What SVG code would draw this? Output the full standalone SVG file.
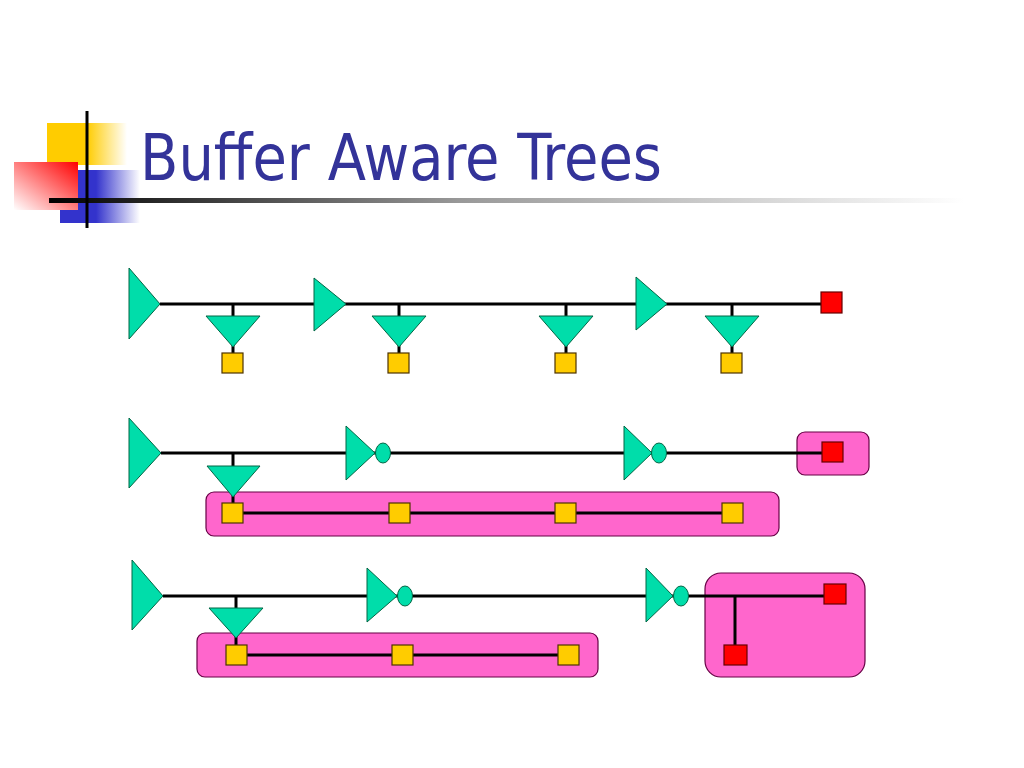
<svg xmlns="http://www.w3.org/2000/svg" width="1024" height="768" viewBox="0 0 1024 768">
<style>
.buf{fill:#00DDAA;stroke:#006644;stroke-width:1}
.wire{stroke:#000;stroke-width:3;fill:none}
.sink{fill:#FFCC00;stroke:#4d3300;stroke-width:1.2}
.root{fill:#FF0000;stroke:#660000;stroke-width:1.2}
.box{fill:#FF66CC;stroke:#660044;stroke-width:1.2}
.title{font-family:Tahoma,"DejaVu Sans","Liberation Sans",sans-serif;font-stretch:condensed;font-size:64px;fill:#333399}
</style>
<defs>
<linearGradient id="gy" x1="0" y1="0" x2="1" y2="0">
<stop offset="0" stop-color="#FFCC00"/><stop offset="0.5" stop-color="#FFCC00"/><stop offset="1" stop-color="#FFCC00" stop-opacity="0"/>
</linearGradient>
<linearGradient id="gb" x1="0" y1="0" x2="1" y2="0">
<stop offset="0" stop-color="#3333CC"/><stop offset="0.45" stop-color="#3333CC"/><stop offset="1" stop-color="#3333CC" stop-opacity="0"/>
</linearGradient>
<linearGradient id="gr" x1="1" y1="0" x2="0" y2="1">
<stop offset="0" stop-color="#FF0000"/><stop offset="1" stop-color="#FFFFFF"/>
</linearGradient>
<linearGradient id="gl" x1="0" y1="0" x2="1" y2="0">
<stop offset="0" stop-color="#000"/><stop offset="0.45" stop-color="#999"/><stop offset="1" stop-color="#fff"/>
</linearGradient>
</defs>
<rect width="1024" height="768" fill="#fff"/>
<g id="decor">
<rect x="47" y="123" width="80" height="42" fill="url(#gy)"/>
<rect x="60" y="170" width="80" height="53" fill="url(#gb)"/>
<rect x="14" y="162" width="64" height="48" fill="url(#gr)"/>
<rect x="49" y="198" width="915" height="5" fill="url(#gl)"/>
<line x1="87" y1="111" x2="87" y2="228" stroke="#000" stroke-width="3"/>
</g>
<text id="title" class="title" x="140" y="180" textLength="522" lengthAdjust="spacingAndGlyphs">Buffer Aware Trees</text>

<g id="boxes">
<rect id="box2a" class="box" x="206" y="492" width="573" height="44" rx="8"/>
<rect id="box2b" class="box" x="797" y="432" width="72" height="43" rx="8"/>
<rect id="box3a" class="box" x="197" y="633" width="401" height="44" rx="8"/>
<rect id="box3b" class="box" x="705" y="573" width="160" height="104" rx="16"/>
</g>

<g id="connectors">
<line class="wire" x1="160" y1="304" x2="821" y2="304"/>
<line class="wire" x1="233" y1="304" x2="233" y2="353"/>
<line class="wire" x1="399" y1="304" x2="399" y2="353"/>
<line class="wire" x1="566" y1="304" x2="566" y2="353"/>
<line class="wire" x1="732" y1="304" x2="732" y2="353"/>
<line class="wire" x1="161" y1="453" x2="822" y2="453"/>
<line class="wire" x1="233" y1="453" x2="233" y2="503"/>
<line class="wire" x1="233" y1="513" x2="732" y2="513"/>
<line class="wire" x1="163" y1="596" x2="824" y2="596"/>
<line class="wire" x1="236" y1="596" x2="236" y2="645"/>
<line class="wire" x1="236" y1="655" x2="568" y2="655"/>
<line class="wire" x1="735" y1="596" x2="735" y2="645"/>
</g>

<g id="row1">
<polygon id="r1b1" class="buf" points="129,268 129,339 160,304"/>
<polygon id="r1b2" class="buf" points="314,278 314,331 346,304"/>
<polygon id="r1b3" class="buf" points="636,277 636,330 667,304"/>
<polygon id="r1t1" class="buf" points="206,316 260,316 233,347"/>
<polygon id="r1t2" class="buf" points="372,316 426,316 399,347"/>
<polygon id="r1t3" class="buf" points="539,316 593,316 566,347"/>
<polygon id="r1t4" class="buf" points="705,316 759,316 732,347"/>
<rect id="r1s1" class="sink" x="222" y="353" width="21" height="20"/>
<rect id="r1s2" class="sink" x="388" y="353" width="21" height="20"/>
<rect id="r1s3" class="sink" x="555" y="353" width="21" height="20"/>
<rect id="r1s4" class="sink" x="721" y="353" width="21" height="20"/>
<rect id="r1root" class="root" x="821" y="292" width="21" height="21"/>
</g>

<g id="row2">
<polygon id="r2b1" class="buf" points="129,418 129,488 161,453"/>
<polygon id="r2t1" class="buf" points="207,466 260,466 233,497"/>
<g id="r2inv1"><polygon class="buf" points="346,426 346,480 375,453"/><ellipse class="buf" cx="383" cy="453" rx="7.5" ry="10"/></g>
<g id="r2inv2"><polygon class="buf" points="624,426 624,480 652,453"/><ellipse class="buf" cx="659" cy="453" rx="7.5" ry="10"/></g>
<rect id="r2s1" class="sink" x="222" y="503" width="21" height="20"/>
<rect id="r2s2" class="sink" x="389" y="503" width="21" height="20"/>
<rect id="r2s3" class="sink" x="555" y="503" width="21" height="20"/>
<rect id="r2s4" class="sink" x="722" y="503" width="21" height="20"/>
<rect id="r2root" class="root" x="822" y="442" width="21" height="20"/>
</g>

<g id="row3">
<polygon id="r3b1" class="buf" points="132,560 132,630 163,596"/>
<polygon id="r3t1" class="buf" points="209,608 263,608 236,638"/>
<g id="r3inv1"><polygon class="buf" points="367,568 367,622 397,596"/><ellipse class="buf" cx="405" cy="596" rx="7.5" ry="10"/></g>
<g id="r3inv2"><polygon class="buf" points="646,568 646,622 673,596"/><ellipse class="buf" cx="681" cy="596" rx="7.5" ry="10"/></g>
<rect id="r3s1" class="sink" x="226" y="645" width="21" height="20"/>
<rect id="r3s2" class="sink" x="392" y="645" width="21" height="20"/>
<rect id="r3s3" class="sink" x="558" y="645" width="21" height="20"/>
<rect id="r3root1" class="root" x="824" y="584" width="22" height="20"/>
<rect id="r3root2" class="root" x="724" y="645" width="23" height="20"/>
</g>
</svg>
